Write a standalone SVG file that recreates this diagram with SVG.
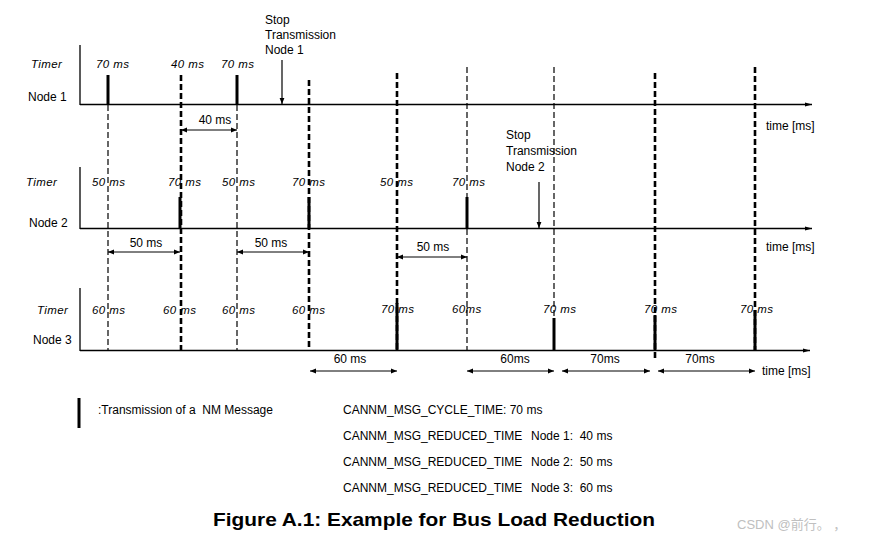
<svg xmlns="http://www.w3.org/2000/svg" width="870" height="539" viewBox="0 0 870 539">
<style>
text{font-family:"Liberation Sans",Arial,sans-serif;font-size:12px;fill:#000}
.it{font-style:italic;font-size:11.5px;letter-spacing:0.4px}
.ax{stroke:#000;stroke-width:1.3;fill:none}
.thin{stroke:#000;stroke-width:1.2;stroke-dasharray:6,3;fill:none}
.thick{stroke:#000;stroke-width:2.6;stroke-dasharray:6,3;fill:none}
.tick{stroke:#000;stroke-width:3;fill:none}
.meas{stroke:#000;stroke-width:1;fill:none;marker-start:url(#ah0);marker-end:url(#ah)}
.stop{stroke:#000;stroke-width:1.2;fill:none;marker-end:url(#ah)}
.axa{stroke:#000;stroke-width:1.3;fill:none;marker-end:url(#axh)}
</style>
<defs>
<marker id="ah" viewBox="0 0 10 10" refX="10" refY="5" markerWidth="6" markerHeight="6" markerUnits="userSpaceOnUse" orient="auto"><path d="M0,1 L10,5 L0,9 z" fill="#000"/></marker>
<marker id="ah0" viewBox="0 0 10 10" refX="0" refY="5" markerWidth="6" markerHeight="6" markerUnits="userSpaceOnUse" orient="auto"><path d="M10,1 L0,5 L10,9 z" fill="#000"/></marker>
<marker id="axh" viewBox="0 0 10 10" refX="10" refY="5" markerWidth="7" markerHeight="7" markerUnits="userSpaceOnUse" orient="auto"><path d="M0,2 L10,5 L0,8 z" fill="#000"/></marker>
</defs>
<rect width="870" height="539" fill="#fff"/>

<g id="connectors">
<line class="thin" x1="108" y1="105" x2="108" y2="350"/>
<line class="thick" x1="181" y1="75" x2="181" y2="350"/>
<line class="thin" x1="237" y1="105" x2="237" y2="350"/>
<line class="thick" x1="309" y1="80" x2="309" y2="350"/>
<line class="thick" x1="397" y1="73" x2="397" y2="350"/>
<line class="thin" x1="467" y1="67" x2="467" y2="350"/>
<line class="thin" x1="554" y1="67" x2="554" y2="350"/>
<line class="thick" x1="655" y1="73" x2="655" y2="358"/>
<line class="thick" x1="755" y1="67" x2="755" y2="350"/>
<line class="stop" x1="282" y1="60" x2="282" y2="104"/>
<line class="stop" x1="539" y1="182" x2="539" y2="228"/>
<line class="meas" x1="181" y1="130" x2="237" y2="130"/>
<line class="meas" x1="108" y1="252" x2="180" y2="252"/>
<line class="meas" x1="237" y1="252" x2="309" y2="252"/>
<line class="meas" x1="397" y1="257" x2="467" y2="257"/>
<line class="meas" x1="310" y1="371" x2="397" y2="371"/>
<line class="meas" x1="467" y1="371" x2="554" y2="371"/>
<line class="meas" x1="562" y1="371" x2="650" y2="371"/>
<line class="meas" x1="658" y1="371" x2="755" y2="371"/>
</g>

<g id="node1">
<line class="ax" x1="80" y1="45" x2="80" y2="105"/>
<line class="axa" x1="80" y1="104.5" x2="812" y2="104.5"/>
<text class="it" x="31" y="68">Timer</text>
<text x="28" y="101">Node 1</text>
<line class="tick" x1="108" y1="75" x2="108" y2="105"/>
<line class="tick" x1="237" y1="75" x2="237" y2="105"/>
<text class="it" x="96" y="68">70 ms</text>
<text class="it" x="171" y="68">40 ms</text>
<text class="it" x="221" y="68">70 ms</text>
<text x="766" y="130">time [ms]</text>
<text x="215" y="124" text-anchor="middle">40 ms</text>
<text x="265" y="24">Stop</text>
<text x="265" y="39">Transmission</text>
<text x="265" y="54">Node 1</text>
</g>

<g id="node2">
<line class="ax" x1="80" y1="167" x2="80" y2="229"/>
<line class="axa" x1="80" y1="228.5" x2="812" y2="228.5"/>
<text class="it" x="26" y="186">Timer</text>
<text x="29" y="227">Node 2</text>
<line class="tick" x1="180" y1="197" x2="180" y2="229"/>
<line class="tick" x1="309" y1="197" x2="309" y2="229"/>
<line class="tick" x1="467" y1="197" x2="467" y2="229"/>
<text class="it" x="92" y="186">50 ms</text>
<text class="it" x="168" y="186">70 ms</text>
<text class="it" x="222" y="186">50 ms</text>
<text class="it" x="292" y="186">70 ms</text>
<text class="it" x="380" y="186">50 ms</text>
<text class="it" x="452" y="186">70 ms</text>
<text x="766" y="251">time [ms]</text>
<text x="146" y="247" text-anchor="middle">50 ms</text>
<text x="271" y="247" text-anchor="middle">50 ms</text>
<text x="433" y="251" text-anchor="middle">50 ms</text>
<text x="506" y="139">Stop</text>
<text x="506" y="155">Transmission</text>
<text x="506" y="171">Node 2</text>
</g>

<g id="node3">
<line class="ax" x1="80" y1="288" x2="80" y2="351"/>
<line class="axa" x1="80" y1="350.5" x2="810" y2="350.5"/>
<text class="it" x="37" y="314">Timer</text>
<text x="33" y="344">Node 3</text>
<line class="tick" x1="397" y1="303" x2="397" y2="351"/>
<line class="tick" x1="554" y1="318" x2="554" y2="351"/>
<line class="tick" x1="655" y1="315" x2="655" y2="351"/>
<line class="tick" x1="755" y1="310" x2="755" y2="351"/>
<text class="it" x="92" y="314">60 ms</text>
<text class="it" x="163" y="314">60 ms</text>
<text class="it" x="222" y="314">60 ms</text>
<text class="it" x="292" y="314">60 ms</text>
<text class="it" x="381" y="313">70 ms</text>
<text class="it" x="452" y="313">60ms</text>
<text class="it" x="543" y="313">70 ms</text>
<text class="it" x="644" y="313">70 ms</text>
<text class="it" x="740" y="313">70 ms</text>
<text x="350" y="363" text-anchor="middle">60 ms</text>
<text x="515" y="363" text-anchor="middle">60ms</text>
<text x="605" y="363" text-anchor="middle">70ms</text>
<text x="700" y="363" text-anchor="middle">70ms</text>
<text x="762" y="375">time [ms]</text>
</g>

<g id="legend">
<line class="tick" x1="79" y1="398" x2="79" y2="428"/>
<text x="98" y="414" xml:space="preserve">:Transmission of a  NM Message</text>
<text x="343" y="414">CANNM_MSG_CYCLE_TIME: 70 ms</text>
<text x="343" y="440">CANNM_MSG_REDUCED_TIME</text>
<text x="531" y="440" xml:space="preserve">Node 1:  40 ms</text>
<text x="343" y="466">CANNM_MSG_REDUCED_TIME</text>
<text x="531" y="466" xml:space="preserve">Node 2:  50 ms</text>
<text x="343" y="492">CANNM_MSG_REDUCED_TIME</text>
<text x="531" y="492" xml:space="preserve">Node 3:  60 ms</text>
</g>

<text x="213" y="526" style="font-size:19px;font-weight:bold" textLength="442" lengthAdjust="spacingAndGlyphs">Figure A.1: Example for Bus Load Reduction</text>
<text x="737" y="529" style="font-size:13px;fill:#c0c0c0;font-family:'Liberation Sans','Noto Sans CJK SC',sans-serif">CSDN @前行。 ，</text>
</svg>
